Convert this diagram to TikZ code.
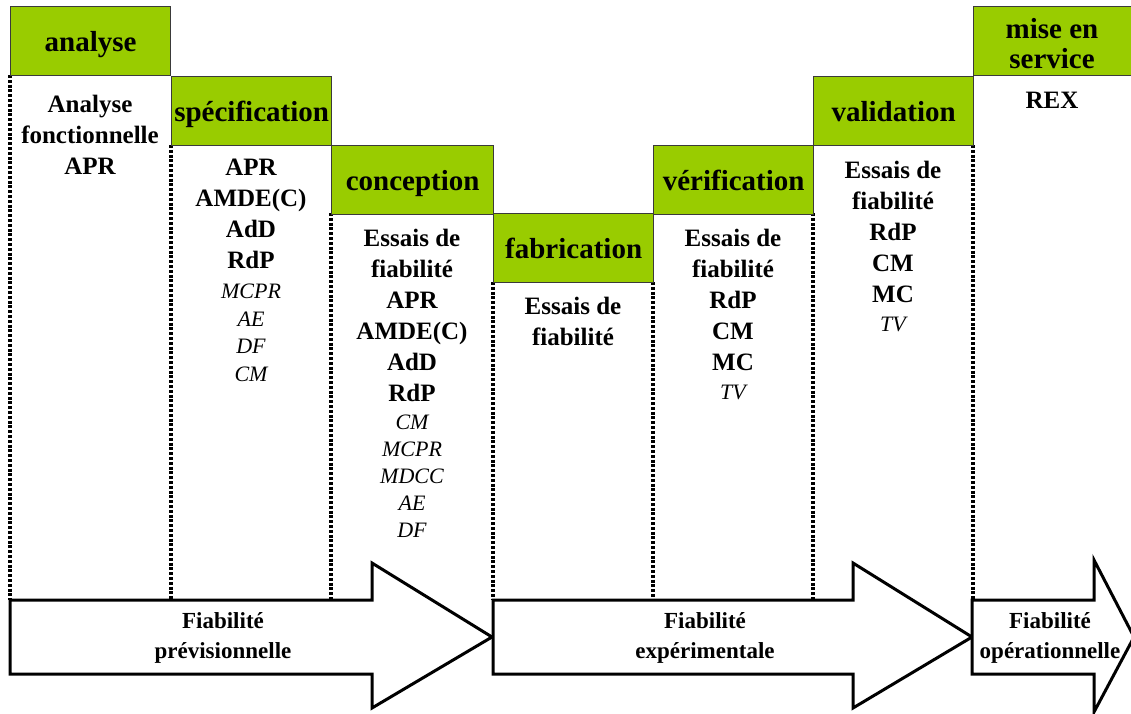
\documentclass[tikz,border=0pt]{standalone}
\usepackage{fontspec}
\setmainfont{Liberation Serif}
\definecolor{vert}{HTML}{99CC00}
\definecolor{bord}{HTML}{3A3A3A}
\tikzset{
  phase/.style={draw=bord, line width=1.3pt, fill=vert, anchor=north west,
    minimum width=160pt, minimum height=69pt, inner sep=0pt, align=center,
    text depth=0pt, font=\fontsize{29}{30}\selectfont\bfseries},
  htext/.style={inner sep=0pt, align=center, font=\fontsize{29}{30}\selectfont\bfseries},
  col/.style={anchor=north, inner sep=0pt, align=center,
    font=\fontsize{25}{31}\selectfont\bfseries},
  sep/.style={line width=3.5pt, dash pattern=on 3pt off 1.8pt},
  bigarrow/.style={draw=black, line width=3pt, fill=white, line join=miter},
  alabel/.style={align=center, inner sep=0pt, font=\fontsize{23}{30}\selectfont\bfseries},
}
\newcommand{\ital}[1]{{\mdseries\itshape\fontsize{22}{31}\selectfont #1}}
\begin{document}
\begin{tikzpicture}[x=1pt,y=-1pt]
\useasboundingbox (0,0) rectangle (1131,713);
\clip (0,0) rectangle (1131,713);
% separators
\coordinate (s0t) at (10,75);   \coordinate (s0b) at (10,600);
\coordinate (s1t) at (171,145); \coordinate (s1b) at (171,600);
\coordinate (s2t) at (331,213); \coordinate (s2b) at (331,600);
\coordinate (s3t) at (493,282); \coordinate (s3b) at (493,600);
\coordinate (s4t) at (653,282); \coordinate (s4b) at (653,600);
\coordinate (s5t) at (813,213); \coordinate (s5b) at (813,600);
\coordinate (s6t) at (973,145); \coordinate (s6b) at (973,600);
\foreach \i in {0,...,6} \draw[sep] (s\i t) -- (s\i b);
% phase boxes
\node[phase] (analyse) at (10,6) {analyse};
\node[phase] (spec) at (171,76) {spécification};
\node[phase, minimum width=162pt] (conc) at (331,145) {conception};
\node[phase] (fab) at (493,213) {fabrication};
\node[phase] (verif) at (653,145) {vérification};
\node[phase] (valid) at (813,76) {validation};
\node[phase, minimum width=170pt] (mes) at (973,6) {};
\node[htext] (mestext) at (1052,44) {mise en\\service};
% column contents
\node[col] (c1) at (90,95) {Analyse\\fonctionnelle\\APR};
\node[col] (c2) at (251,159) {APR\\AMDE(C)\\AdD\\RdP\\[-1pt]\ital{MCPR}\\[-3.5pt]\ital{AE}\\[-3.5pt]\ital{DF}\\[-3.5pt]\ital{CM}};
\node[col] (c3) at (412,229) {Essais de\\fiabilité\\APR\\AMDE(C)\\AdD\\RdP\\[-3pt]\ital{CM}\\[-4pt]\ital{MCPR}\\[-4pt]\ital{MDCC}\\[-4pt]\ital{AE}\\[-4pt]\ital{DF}};
\node[col] (c4) at (573,297) {Essais de\\fiabilité};
\node[col] (c5) at (733,229) {Essais de\\fiabilité\\RdP\\CM\\MC\\[-2pt]\ital{TV}};
\node[col] (c6) at (893,161) {Essais de\\fiabilité\\RdP\\CM\\MC\\[-2pt]\ital{TV}};
\node[col] (c7) at (1052,92) {REX};
% big arrows
\draw[bigarrow] (10,600) -- (372,600) -- (372,563) -- (492,637) -- (372,708) -- (372,674) -- (10,674) -- cycle;
\draw[bigarrow] (493,600) -- (853,600) -- (853,563) -- (972,637) -- (853,708) -- (853,674) -- (493,674) -- cycle;
\draw[bigarrow] (972,600) -- (1094,600) -- (1094,560) -- (1134,637) -- (1094,712) -- (1094,674) -- (972,674) -- cycle;
\node[alabel] (a1) at (223,638) {Fiabilité\\prévisionnelle};
\node[alabel] (a2) at (705,638) {Fiabilité\\expérimentale};
\node[alabel] (a3) at (1050,638) {Fiabilité\\opérationnelle};
\end{tikzpicture}
\end{document}
